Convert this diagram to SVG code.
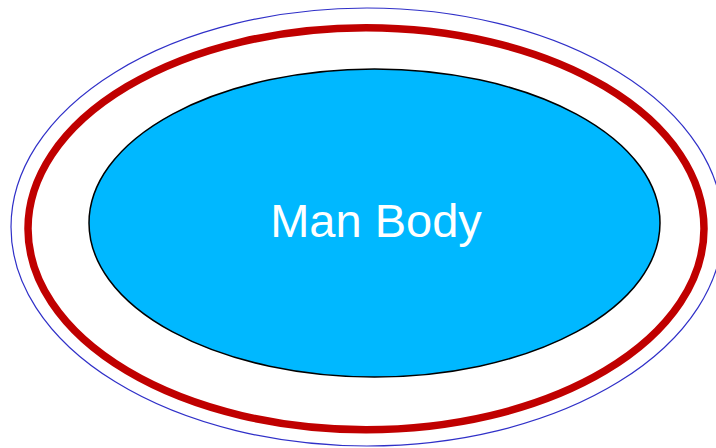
<svg xmlns="http://www.w3.org/2000/svg" width="716" height="448" viewBox="0 0 716 448">
<style>
.lbl{font-family:"Liberation Sans",Arial,sans-serif;font-size:47px;fill:#ffffff;text-anchor:middle}
</style>
<rect width="716" height="448" fill="#ffffff"/>
<g id="outer-ring"><ellipse cx="367" cy="227" rx="356" ry="219" fill="none" stroke="#3030C8" stroke-width="1.2"/></g>
<g id="red-ring"><ellipse cx="366" cy="228.7" rx="338" ry="201" fill="none" stroke="#C00000" stroke-width="7.5"/></g>
<g id="man-body"><ellipse cx="374.5" cy="223" rx="285.5" ry="154" fill="#00B8FF" stroke="#000000" stroke-width="1.5"/>
<text class="lbl" x="376" y="237">Man Body</text></g>
<g id="connectors"></g>
</svg>
